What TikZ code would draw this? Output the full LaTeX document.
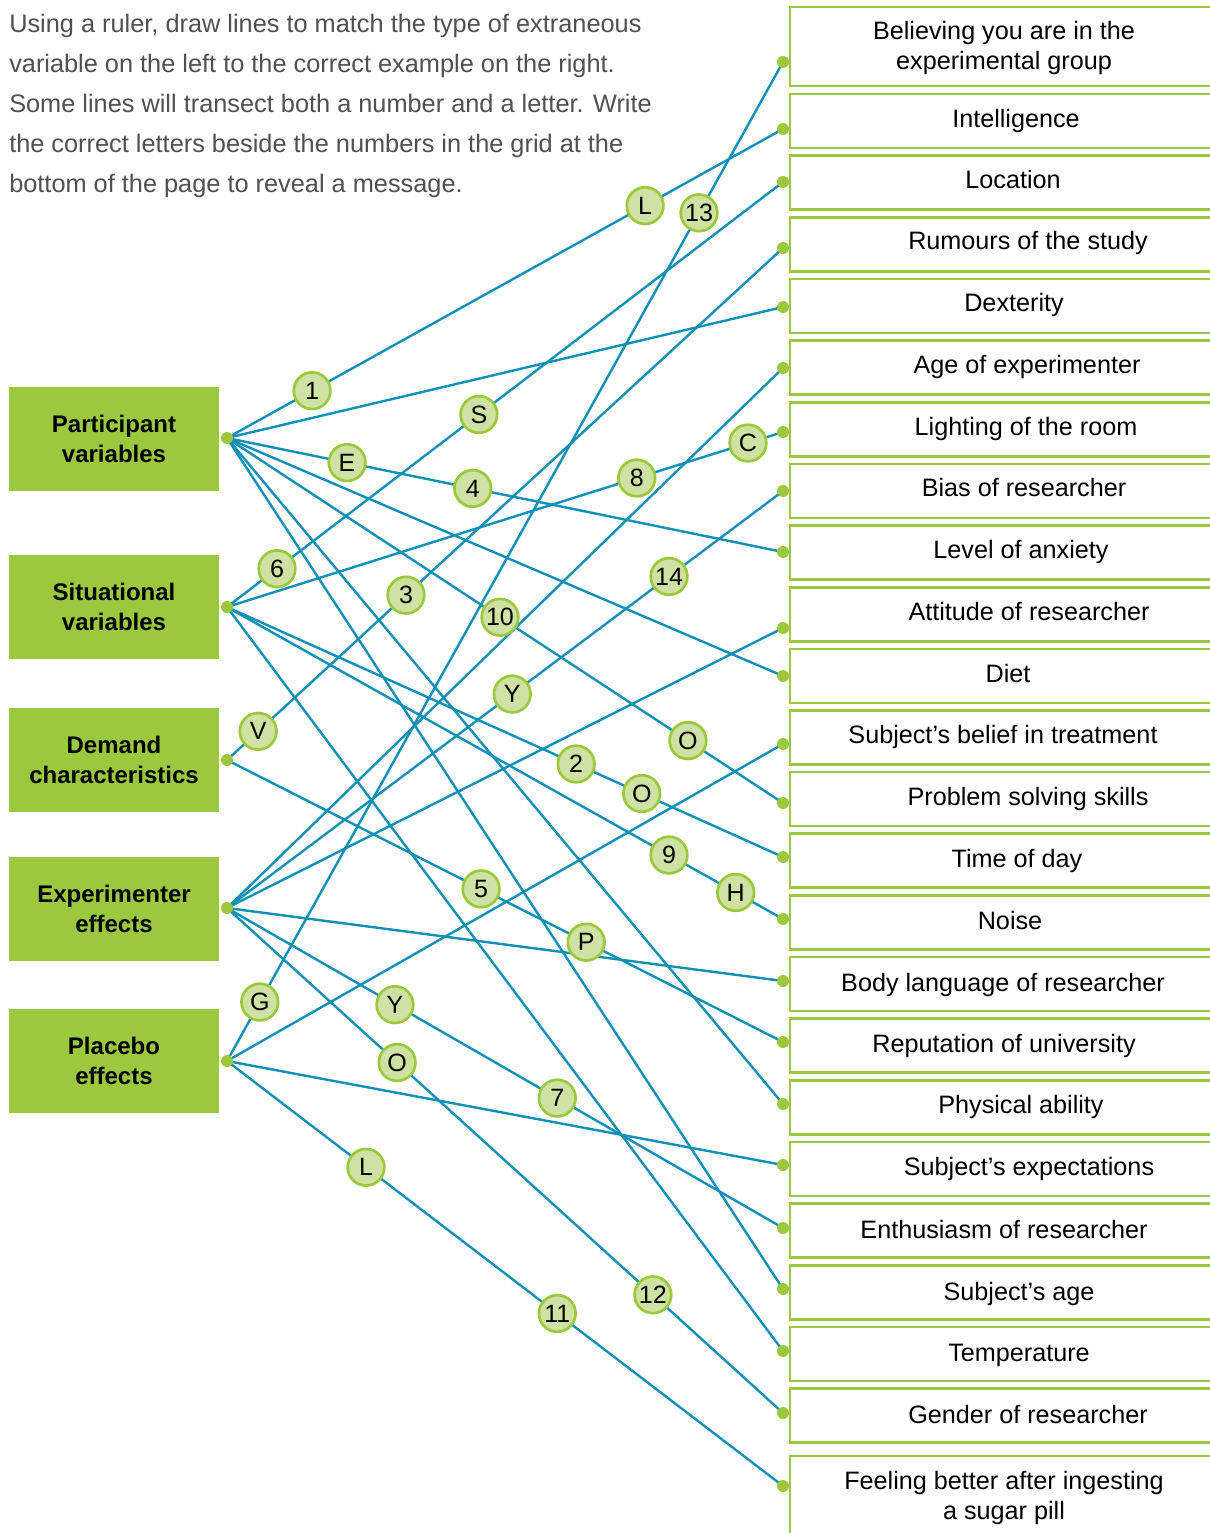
\documentclass[tikz,border=0pt]{standalone}
\usepackage{fontspec}
\setmainfont{Liberation Sans}
\definecolor{leaf}{HTML}{9BC83C}
\definecolor{leaflight}{HTML}{CFE2A3}
\definecolor{wire}{HTML}{1190B6}
\definecolor{ink}{HTML}{505050}
\begin{document}
\begin{tikzpicture}[x=0.75pt,y=-0.75pt,
  catbox/.style={fill=leaf, minimum width=157.5pt, minimum height=78pt, inner sep=0pt,
    align=center, font=\bfseries\fontsize{18}{22.5}\selectfont},
  rbox/.style={draw=leaf, line width=2pt},
  rtext/.style={anchor=base, inner sep=0pt, align=center, font=\fontsize{18.9}{22.5}\selectfont},
  intro/.style={anchor=base west, inner sep=0pt, text=ink, font=\fontsize{19}{22.5}\selectfont},
  wireline/.style={draw=wire, line width=1.8pt},
  tag/.style={circle, draw=leaf, fill=leaflight, line width=2pt, minimum size=27.5pt,
    inner sep=0pt, font=\fontsize{18.8}{22}\selectfont},
  enddot/.style={fill=leaf}]
\useasboundingbox (0,0) rectangle (1209,1533);

% instructions
\node[intro] (intro1) at (9,33)  {Using a ruler, draw lines to match the type of extraneous};
\node[intro] (intro2) at (9,73)  {variable on the left to the correct example on the right.};
\node[intro] (intro3) at (9,113) {Some lines will transect both a number and a letter. Write};
\node[intro] (intro4) at (9,153) {the correct letters beside the numbers in the grid at the};
\node[intro] (intro5) at (9,193) {bottom of the page to reveal a message.};

% categories on the left
\node[catbox] (part)  at (114,439)  {Participant\\variables};
\node[catbox] (situ)  at (114,607)  {Situational\\variables};
\node[catbox] (dema)  at (114,760)  {Demand\\characteristics};
\node[catbox] (expe)  at (114,909)  {Experimenter\\effects};
\node[catbox] (plac)  at (114,1061) {Placebo\\effects};

% example boxes on the right
\draw[rbox] (790,7) rectangle (1240,86);
\foreach \k in {2,...,23}
  \draw[rbox] (790,{121+61.65*(\k-2)-27}) rectangle (1240,{121+61.65*(\k-2)+27});
\draw[rbox] (790,1456) rectangle (1240,1560);

% two-line labels are anchored on the baseline of their last line
\node[rtext] (ex1) at (1004,69.5) {Believing you are in the\\experimental group};
\foreach \k/\x/\y/\t in {
  2/1016/119/Intelligence,
  3/1013/180/Location,
  4/1028/241/Rumours of the study,
  5/1014/303/Dexterity,
  6/1027/365/Age of experimenter,
  7/1026/427/Lighting of the room,
  8/1024/488/Bias of researcher,
  9/1021/550/Level of anxiety,
  10/1029/612/Attitude of researcher,
  11/1008/674/Diet,
  12/1003/735/Subject’s belief in treatment,
  13/1028/797/Problem solving skills,
  14/1017/859/Time of day,
  15/1010/921/Noise,
  16/1003/983/Body language of researcher,
  17/1004/1044/Reputation of university,
  18/1021/1105/Physical ability,
  19/1029/1167/Subject’s expectations,
  20/1004/1230/Enthusiasm of researcher,
  21/1019/1292/Subject’s age,
  22/1019/1353/Temperature,
  23/1028/1415/Gender of researcher}
  \node[rtext] (ex\k) at (\x,\y+8.5) {\t};
\node[rtext] (ex24) at (1004,1519.5) {Feeling better after ingesting\\a sugar pill};

% connector end points
\coordinate (pv) at (227,438);
\coordinate (sv) at (227,607);
\coordinate (dv) at (227,760);
\coordinate (ev) at (227,908);
\coordinate (bv) at (227,1061);
\foreach \k/\y in {1/62,2/129,3/182,4/248,5/307,6/368,7/432,8/491,9/552,10/628,
  11/676,12/744,13/803,14/857,15/919,16/981,17/1042,18/1104,19/1165,20/1228,
  21/1289,22/1351,23/1413,24/1486}
  \coordinate (r\k) at (783,\y);

% participant variables
\draw[wireline] (pv) -- coordinate[pos=.153] (c1) coordinate[pos=.752] (cL1) (r2);
\draw[wireline] (pv) -- (r5);
\draw[wireline] (pv) -- coordinate[pos=.216] (cE) coordinate[pos=.442] (c4) (r9);
\draw[wireline] (pv) -- (r11);
\draw[wireline] (pv) -- coordinate[pos=.491] (c10) coordinate[pos=.829] (cO1) (r13);
\draw[wireline] (pv) -- (r18);
\draw[wireline] (pv) -- (r21);
% situational variables
\draw[wireline] (sv) -- coordinate[pos=.090] (c6) coordinate[pos=.453] (cS) (r3);
\draw[wireline] (sv) -- coordinate[pos=.737] (c8) coordinate[pos=.937] (cC) (r7);
\draw[wireline] (sv) -- coordinate[pos=.628] (c2) coordinate[pos=.746] (cO2) (r14);
\draw[wireline] (sv) -- coordinate[pos=.795] (c9) coordinate[pos=.915] (cH) (r15);
\draw[wireline] (sv) -- (r22);
% demand characteristics
\draw[wireline] (dv) -- coordinate[pos=.056] (cV) coordinate[pos=.322] (c3) (r4);
\draw[wireline] (dv) -- coordinate[pos=.457] (c5) coordinate[pos=.646] (cP) (r17);
% experimenter effects
\draw[wireline] (ev) -- (r6);
\draw[wireline] (ev) -- coordinate[pos=.513] (cY1) coordinate[pos=.795] (c14) (r8);
\draw[wireline] (ev) -- (r10);
\draw[wireline] (ev) -- (r16);
\draw[wireline] (ev) -- coordinate[pos=.302] (cY2) coordinate[pos=.594] (c7) (r20);
\draw[wireline] (ev) -- coordinate[pos=.306] (cO3) coordinate[pos=.766] (c12) (r23);
% placebo effects
\draw[wireline] (bv) -- coordinate[pos=.059] (cG) coordinate[pos=.849] (c13) (r1);
\draw[wireline] (bv) -- (r12);
\draw[wireline] (bv) -- (r19);
\draw[wireline] (bv) -- coordinate[pos=.250] (cL2) coordinate[pos=.594] (c11) (r24);

% number and letter tags
\foreach \c/\t in {c1/1,cL1/L,cE/E,c4/4,c10/10,cO1/O,c6/6,cS/S,c8/8,cC/C,c2/2,cO2/O,
  c9/9,cH/H,cV/V,c3/3,c5/5,cP/P,cY1/Y,c14/14,cY2/Y,c7/7,cO3/O,c12/12,cG/G,c13/13,
  cL2/L,c11/11}
  \node[tag] (tag-\c) at (\c) {\t};

% end dots
\foreach \p in {pv,sv,dv,ev,bv,r1,r2,r3,r4,r5,r6,r7,r8,r9,r10,r11,r12,r13,r14,r15,
  r16,r17,r18,r19,r20,r21,r22,r23,r24}
  \fill[enddot] (\p) circle (4.5pt);
\end{tikzpicture}
\end{document}
